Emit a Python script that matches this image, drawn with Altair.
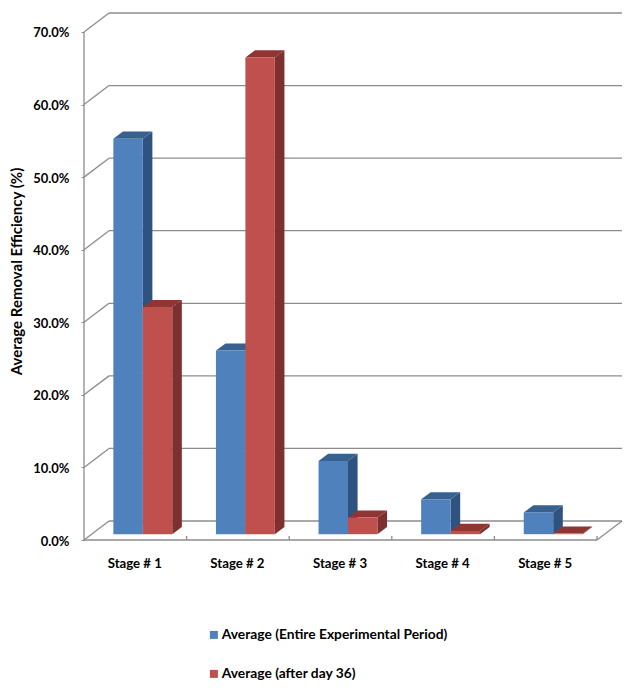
import altair as alt
import pandas as pd

stages = ["Stage # 1", "Stage # 2", "Stage # 3", "Stage # 4", "Stage # 5"]
series_names = ["Average (Entire Experimental Period)", "Average (after day 36)"]
entire_period = [54.5, 25.3, 10.1, 4.8, 3.0]
after_day_36 = [31.3, 65.7, 2.3, 0.45, 0.08]
y_ticks = [0, 10, 20, 30, 40, 50, 60, 70]
colors_front = ["#4F81BD", "#C0504D"]
colors_side = ["#2F5380", "#7E3030"]
colors_top = ["#38618F", "#8F3533"]
grid_color = "#8C8C8C"
font = "Lato"

# projection of the pseudo-3D chart box, in data units
WALL_DX, WALL_DY = 25 / 102.6, 19 / 7.26
BAR_DX, BAR_DY = 9.6 / 102.6, 7.1 / 7.26
BAR_BASE = 5.8 / 7.26
BAR_START, BAR_W = 0.286, 0.287
X_MAX = 5 + WALL_DX
Y_MAX = 70 + WALL_DY

xs = alt.Scale(domain=[0, X_MAX], nice=False, zero=False)
ys = alt.Scale(domain=[0, Y_MAX], nice=False, zero=False)

x_axis_def = alt.Axis(
    values=[i + 0.5 for i in range(5)],
    labelExpr="'Stage # ' + (datum.value + 0.5)",
    tickSize=0,
    domain=False,
    grid=False,
    title=None,
    labelFont=font,
    labelFontSize=13.2,
    labelFontWeight="bold",
    labelColor="#000000",
    labelPadding=17,
    labelOffset=-1,
    labelOverlap=False,
)
y_axis_def = alt.Axis(
    values=y_ticks,
    labelExpr="format(datum.value, '.1f') + '%'",
    tickSize=3,
    tickColor=grid_color,
    domain=False,
    grid=False,
    title="Average Removal Efficiency (%)",
    titleFont=font,
    titleFontSize=15,
    titleFontWeight="bold",
    titleColor="#000000",
    titleAngle=270,
    titleX=-68,
    titleY=258,
    titleAlign="center",
    titleBaseline="middle",
    labelFont=font,
    labelFontSize=13,
    labelFontWeight="bold",
    labelColor="#000000",
    labelPadding=12,
    labelOffset=1,
    labelOverlap=False,
)


def X(f="x"):
    return alt.X(f"{f}:Q", scale=xs, axis=x_axis_def)


def Y(f="y"):
    return alt.Y(f"{f}:Q", scale=ys, axis=y_axis_def, stack=None)


front, side, top = [], [], []
for si, vals in enumerate([entire_period, after_day_36]):
    for c, v in enumerate(vals):
        x0 = c + BAR_START + si * BAR_W
        x1 = x0 + BAR_W
        b = BAR_BASE
        t = b + v
        key = f"{si}-{c}"
        front.append(dict(series=series_names[si], x=x0, x2=x1, y=b, y2=t, s=si))
        side.append(dict(k=key, s=si, x=x1, y=t, y2=b))
        side.append(dict(k=key, s=si, x=x1 + BAR_DX, y=t + BAR_DY, y2=b + BAR_DY))
        top.append(dict(k=key, s=si, x=x0, y=t, y2=t))
        top.append(dict(k=key, s=si, x=x0 + BAR_DX, y=t + BAR_DY, y2=t))
        top.append(dict(k=key, s=si, x=x1, y=t + BAR_DY, y2=t))
        top.append(dict(k=key, s=si, x=x1 + BAR_DX, y=t + BAR_DY, y2=t + BAR_DY))
front, side, top = map(pd.DataFrame, (front, side, top))

lines = []
for v in y_ticks:
    lines.append(dict(x=WALL_DX, x2=X_MAX, y=v + WALL_DY, y2=v + WALL_DY))
    lines.append(dict(x=0, x2=WALL_DX, y=v, y2=v + WALL_DY))
lines.append(dict(x=0, x2=5, y=0, y2=0))
lines.append(dict(x=5, x2=X_MAX, y=0, y2=WALL_DY))
lines.append(dict(x=0, x2=0, y=0, y2=70))
for c in range(1, 6):
    lines.append(dict(x=c, x2=c, y=0, y2=0.55))
lines = pd.DataFrame(lines)

rules = (
    alt.Chart(lines)
    .mark_rule(color=grid_color, strokeWidth=1.3)
    .encode(x=X(), x2="x2:Q", y=Y(), y2="y2:Q")
)

layers = [rules]
for si in range(2):
    layers.append(
        alt.Chart(side[side.s == si])
        .mark_area(color=colors_side[si], orient="vertical")
        .encode(x=X(), y=Y(), y2="y2:Q", detail="k:N")
    )
    layers.append(
        alt.Chart(top[top.s == si])
        .mark_area(color=colors_top[si], orient="vertical")
        .encode(x=X(), y=Y(), y2="y2:Q", detail="k:N")
    )
    layers.append(
        alt.Chart(front[front.s == si])
        .mark_rect()
        .encode(
            x=X(),
            x2="x2:Q",
            y=Y(),
            y2="y2:Q",
            color=alt.Color(
                "series:N",
                scale=alt.Scale(domain=series_names, range=colors_front),
                legend=alt.Legend(
                    orient="none",
                    legendX=123,
                    legendY=615,
                    title=None,
                    symbolType="square",
                    symbolSize=64,
                    symbolStrokeWidth=0,
                    labelFont=font,
                    labelFontSize=13.8,
                    labelFontWeight="bold",
                    labelColor="#000000",
                    labelLimit=400,
                    rowPadding=24,
                    labelOffset=1,
                ),
            ),
        )
    )

chart = (
    alt.layer(*layers)
    .properties(
        width=538,
        height=527,
        padding={"left": 76, "top": 5, "right": 10, "bottom": 146},
        autosize=alt.AutoSizeParams(type="none"),
    )
    .configure_view(stroke=None)
)

chart.save("out.html", embed_options={"renderer": "svg", "actions": False})
